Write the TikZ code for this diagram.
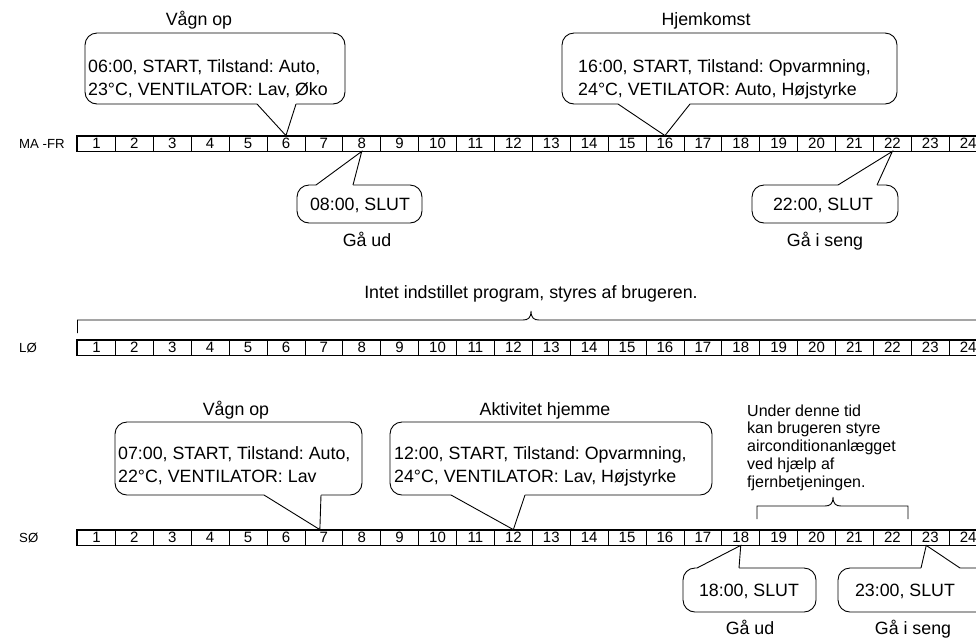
\documentclass[tikz,border=0pt]{standalone}
\usepackage{fontspec}
\setmainfont{Liberation Sans}
\usetikzlibrary{calc}
\frenchspacing
\newcommand{\calldown}[7]{%
  \draw[bub] (#1,#2) rectangle (#3,#4);
  \fill[white] (#5,#4-2) -- (#5,#4) -- (#7) -- (#6,#4) -- (#6,#4-2) -- cycle;
  \draw[tail] (#5,#4) -- (#7) -- (#6,#4);
}
\newcommand{\callup}[7]{%
  \draw[bub] (#1,#2) rectangle (#3,#4);
  \fill[white] (#5,#2+2) -- (#5,#2) -- (#7) -- (#6,#2) -- (#6,#2+2) -- cycle;
  \draw[tail] (#5,#2) -- (#7) -- (#6,#2);
}
\newcommand{\bracketdraw}[5]{%
  \draw[brk] (#1,#4) -- (#1,#3) -- (#5-8,#3) .. controls (#5-3,#3) and (#5,#3-2) .. (#5,#3-9)
     .. controls (#5,#3-2) and (#5+3,#3) .. (#5+8,#3) -- (#2,#3) -- (#2,#4);
}
\begin{document}
\begin{tikzpicture}[x=1pt,y=-1pt,
  txt/.style={font=\fontsize{17.8}{23}\selectfont, inner sep=0pt, align=left, anchor=base west},
  ctxt/.style={font=\fontsize{17.8}{22}\selectfont, inner sep=0pt, anchor=base},
  cell/.style={draw, line width=0.8pt, minimum width=37.9pt, minimum height=15pt, inner sep=0pt, font=\fontsize{15}{15}\selectfont},
  lbl/.style={font=\fontsize{13.2}{15}\selectfont, inner sep=0pt, anchor=west},
  bub/.style={draw, line width=0.9pt, fill=white, rounded corners=12pt},
  tail/.style={line width=0.9pt, line join=miter},
  brk/.style={line width=0.9pt},
  frame/.style={line width=1.8pt}
]
\useasboundingbox (0,0) rectangle (976,641);
\clip (0,0) rectangle (976,641);

% ---------- timelines ----------
\foreach \i in {1,...,24} {
  \node[cell] (a\i) at ({77.5+(\i-0.5)*37.9},143.5) {\i};
  \node[cell] (l\i) at ({77.5+(\i-0.5)*37.9},347.5) {\i};
  \node[cell] (b\i) at ({77.5+(\i-0.5)*37.9},537.5) {\i};
}
\draw[frame] (a1.north west) rectangle (a24.south east);
\draw[frame] (l1.north west) rectangle (l24.south east);
\draw[frame] (b1.north west) rectangle (b24.south east);

\node[lbl] (rowA) at (19,143.5) {MA -FR};
\node[lbl] (rowL) at (19,347.5) {LØ};
\node[lbl] (rowB) at (19,537.5) {SØ};

% ---------- MA-FR ----------
\node[ctxt] (tA) at (199,25.5) {Vågn op};
\coordinate (pA) at (a6.north);
\calldown{85}{33}{345}{104}{257}{296}{pA}
\node[txt] (xA) at (88,95) {06:00, START, Tilstand: Auto,\\23°C, VENTILATOR: Lav, Øko};

\node[ctxt] (tB) at (706,25.5) {Hjemkomst};
\coordinate (pB) at (a16.north);
\calldown{562}{33}{897}{104}{618}{690}{pB}
\node[txt] (xB) at (578,95) {16:00, START, Tilstand: Opvarmning,\\24°C, VETILATOR: Auto, Højstyrke};

\coordinate (pC) at (a8.south);
\callup{297}{185}{422}{223}{316}{353}{pC}
\node[ctxt] (xC) at (360,210) {08:00, SLUT};
\node[ctxt] (gC) at (367,246.5) {Gå ud};

\coordinate (pD) at (a22.south);
\callup{752}{185}{898}{223}{838}{877}{pD}
\node[ctxt] (xD) at (823,210) {22:00, SLUT};
\node[ctxt] (gD) at (825,246.5) {Gå i seng};

% ---------- LØ ----------
\node[ctxt] (tL) at (531,298.5) {Intet indstillet program, styres af brugeren.};
\bracketdraw{77.5}{987}{320}{333}{531}

% ---------- SØ ----------
\node[ctxt] (tE) at (236,415.5) {Vågn op};
\coordinate (pE) at ($(b7.north)+(-4,0)$);
\calldown{115}{422}{362}{495}{264}{321}{pE}
\node[txt] (xE) at (118,482) {07:00, START, Tilstand: Auto,\\22°C, VENTILATOR: Lav};

\node[ctxt] (tF) at (545,415.5) {Aktivitet hjemme};
\coordinate (pF) at (b12.north);
\calldown{390}{422}{712}{495}{451}{525}{pF}
\node[txt] (xF) at (394,482) {12:00, START, Tilstand: Opvarmning,\\24°C, VENTILATOR: Lav, Højstyrke};

\node[font=\fontsize{16}{17.75}\selectfont, inner sep=0pt, align=left, anchor=base west] (tU) at (747,487)
  {Under denne tid\\kan brugeren styre\\airconditionanlægget\\ved hjælp af\\fjernbetjeningen.};
\bracketdraw{757}{908}{506}{519}{833}

\coordinate (pG) at (b18.south);
\callup{683}{568}{816}{612}{697}{739}{pG}
\node[ctxt] (xG) at (749,596.5) {18:00, SLUT};
\node[ctxt] (gG) at (750,634.5) {Gå ud};

\coordinate (pH) at ($(b23.south)+(-4,0)$);
\callup{838}{568}{995}{612}{921}{960}{pH}
\node[ctxt] (xH) at (905,596.5) {23:00, SLUT};
\node[ctxt] (gH) at (913,634.5) {Gå i seng};
\end{tikzpicture}
\end{document}
